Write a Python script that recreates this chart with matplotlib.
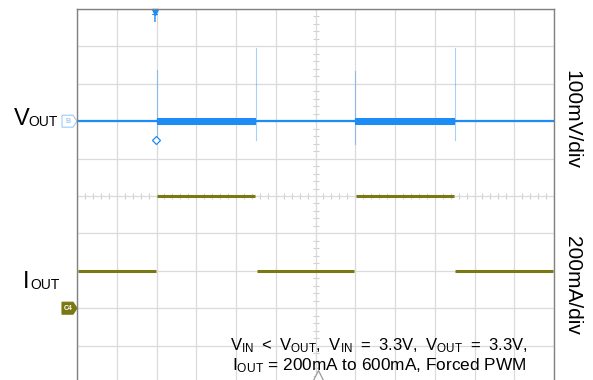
import numpy as np
import matplotlib
matplotlib.use('Agg')
import matplotlib.pyplot as plt
from matplotlib.patches import Polygon

plt.rcParams['font.family'] = ['Liberation Sans', 'DejaVu Sans']
plt.rcParams['mathtext.fontset'] = 'custom'
plt.rcParams['mathtext.rm'] = 'Liberation Sans'
plt.rcParams['mathtext.default'] = 'regular'

# 数据（单位：格 / mV / mA）
edges = [0, 2, 4.5, 7, 9.5, 12]          # 负载切换时刻（横向格数）
iout_ma = [200, 600, 200, 600, 200]      # 各段输出电流
vout_band_mv = [3, 9, 3, 9, 3]           # 各段 Vout 纹波半幅
spike_t = [2, 4.5, 7, 9.5]               # 切换尖峰位置
spike_hi_mv = [137, 196, 133, 196]
spike_lo_mv = [-50, -50, -60, -50]

vout_pos = 7      # Vout 通道零点（格）
iout_pos = 2      # Iout 通道零点（格）
mv_per_div = 100
ma_per_div = 200

blue = '#1E8CF5'
olive = '#7A7812'
grid_c = '#DADADA'

fig = plt.figure(figsize=(5.93, 3.80), dpi=100)
ax = fig.add_axes([77 / 593, 1 - 383 / 380, 477 / 593, 374 / 380])
ax.set_xlim(0, 12)
ax.set_ylim(0, 10)
ax.set_xticks(np.arange(0, 13, 1))
ax.set_yticks(np.arange(0, 11, 1))
ax.set_axisbelow(True)
ax.tick_params(length=0, labelleft=False, labelbottom=False)
ax.grid(True, color=grid_c, lw=0.9)
for s in ['left', 'top', 'right']:
    ax.spines[s].set_color('#808080')
    ax.spines[s].set_linewidth(1.0)
ax.spines['bottom'].set_visible(False)

# 中心线上的小刻度
minor = np.arange(0, 12.01, 0.2)
ax.plot(minor, np.full_like(minor, 5), ls='none', marker='|', ms=4, color='#CFCFCF', mew=0.8, zorder=0.5)
minor_y = np.arange(0, 10.01, 0.2)
ax.plot(np.full_like(minor_y, 6), minor_y, ls='none', marker='_', ms=4, color='#CFCFCF', mew=0.8, zorder=0.5)

# Vout 尖峰
for t, hi, lo in zip(spike_t, spike_hi_mv, spike_lo_mv):
    ax.plot([t, t], [vout_pos + lo / mv_per_div, vout_pos + hi / mv_per_div],
            color=blue, lw=0.8, alpha=0.4)

# Vout 波形（纹波带）
for i in range(len(iout_ma)):
    t0, t1 = edges[i], edges[i + 1]
    h = vout_band_mv[i] / mv_per_div
    ax.fill_between([t0, t1], vout_pos - h, vout_pos + h, color=blue, lw=0)
    ax.plot([t0, t1], [vout_pos, vout_pos], color=blue, lw=1.6)

# Iout 波形
for i in range(len(iout_ma)):
    t0, t1 = edges[i], edges[i + 1]
    y = iout_pos + iout_ma[i] / ma_per_div
    ax.plot([t0 + 0.02, t1 - 0.02], [y, y], color=olive, lw=2.2, solid_capstyle='butt')

# 触发标记
ax.plot([spike_t[0] - 0.02], [vout_pos + spike_lo_mv[0] / mv_per_div], marker='D', ms=4,
        mfc='white', mec=blue, mew=0.9)
ax.plot([spike_t[0] - 0.05], [9.92], marker='v', ms=5, color=blue, clip_on=False)
ax.text(spike_t[0] - 0.05, 9.72, 'T', color=blue, fontsize=7, fontweight='bold',
        ha='center', va='center')

# 水平位置标记
ax.plot([6.06], [0.19], marker='^', ms=8, mfc='white', mec='#999999', mew=0.9)


def tag(ypos, fc, ec, label, lc):
    w = 15 / 477
    hh = 6 / 374
    tip = 4 / 477
    yy = ypos / 10
    pts = [(-w, yy - hh), (-tip, yy - hh), (0, yy), (-tip, yy + hh), (-w, yy + hh)]
    ax.add_patch(Polygon(pts, closed=True, transform=ax.transAxes, fc=fc, ec=ec,
                         lw=0.8, clip_on=False))
    ax.text(-w / 2 - tip / 3, yy, label, transform=ax.transAxes, fontsize=5,
            color=lc, ha='center', va='center', fontweight='bold')


tag(vout_pos, 'white', '#9CCBF5', 'B', '#9CCBF5')
tag(iout_pos, olive, olive, 'C4', 'white')

# 左侧通道标签（大写主字母 + 小号下标）
fig.text(14 / 593, 1 - 125 / 380, 'V', fontsize=17, ha='left', va='baseline')
fig.text(28 / 593, 1 - 126 / 380, 'OUT', fontsize=10, ha='left', va='baseline')
fig.text(23 / 593, 1 - 288 / 380, 'I', fontsize=17, ha='left', va='baseline')
fig.text(30 / 593, 1 - 289 / 380, 'OUT', fontsize=10, ha='left', va='baseline')

# 右侧刻度说明
fig.text(572 / 593, 1 - 120 / 380, '100mV/div', fontsize=15, rotation=270,
         ha='center', va='center')
fig.text(572 / 593, 1 - 285 / 380, '200mA/div', fontsize=15, rotation=270,
         ha='center', va='center')

# 测试条件
en = '\u2002'
line1 = en.join([r'V$_{IN}$', '<', r'V$_{OUT}$,', r'V$_{IN}$', '=', '3.3V,',
                 r'V$_{OUT}$', '=', '3.3V,'])
fig.text(527 / 593, 1 - 350 / 380, line1, fontsize=12.0, ha='right', va='baseline')
fig.text(527 / 593, 1 - 370 / 380,
         r'I$_{OUT}$ = 200mA to 600mA, Forced PWM',
         fontsize=12.4, ha='right', va='baseline')

fig.savefig('out.png', dpi=100)
